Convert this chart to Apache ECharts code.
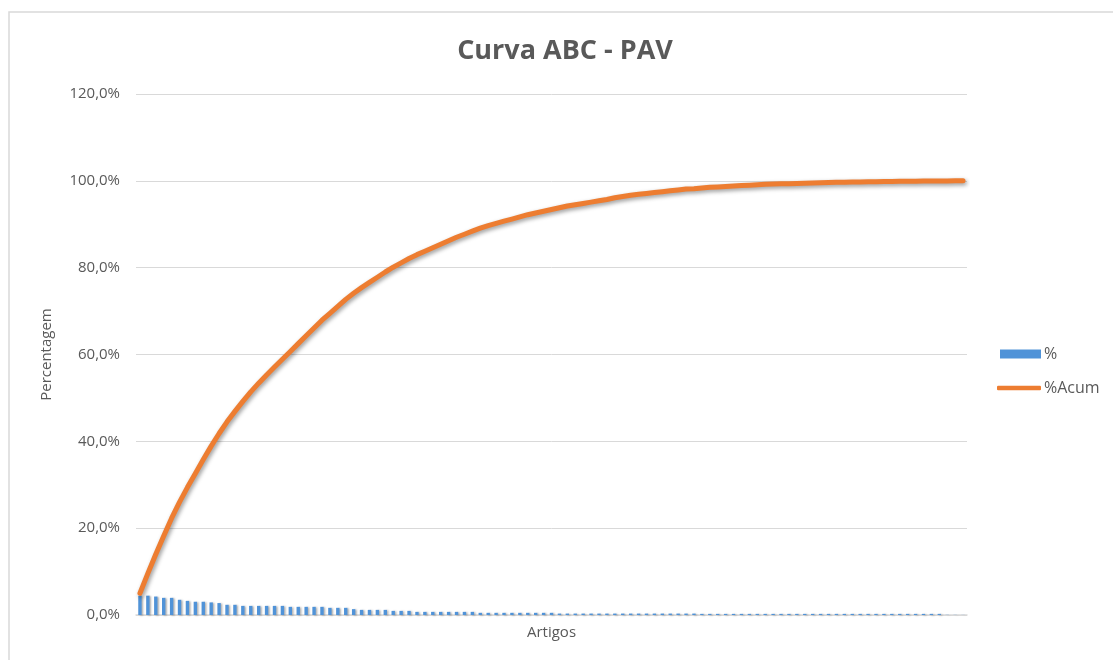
<!DOCTYPE html>
<html>
<head>
<meta charset="utf-8">
<title>Curva ABC - PAV</title>
<script src="https://cdn.jsdelivr.net/npm/echarts@6/dist/echarts.min.js"></script>
<style>
  html, body { margin: 0; padding: 0; background: #ffffff; }
  #chart { width: 1113px; height: 660px; }
</style>
</head>
<body>
<div id="chart"></div>
<script>
// Articles ranked by share (1 = largest share)
const articleCount = 105;
const categories = Array.from({ length: articleCount }, (_, i) => String(i + 1));

// Share of each article, in %
const pct = [
  4.45, 4.45, 4.25, 3.95, 3.95, 3.5, 3.25, 3.05, 3.05, 2.9,
  2.75, 2.35, 2.35, 2.1, 2.1, 2.1, 2.1, 2.1, 2.1, 1.88,
  1.88, 1.88, 1.88, 1.88, 1.65, 1.65, 1.65, 1.35, 1.18, 1.18,
  1.18, 1.18, 0.95, 0.95, 0.95, 0.72, 0.72, 0.72, 0.72, 0.72,
  0.72, 0.72, 0.72, 0.5, 0.5, 0.5, 0.5, 0.5, 0.5, 0.5,
  0.5, 0.5, 0.5, 0.33, 0.33, 0.33, 0.33, 0.33, 0.33, 0.33,
  0.33, 0.33, 0.33, 0.33, 0.33, 0.33, 0.33, 0.33, 0.33, 0.33,
  0.33, 0.26, 0.26, 0.26, 0.26, 0.26, 0.26, 0.26, 0.26, 0.26,
  0.26, 0.26, 0.26, 0.26, 0.26, 0.26, 0.26, 0.26, 0.26, 0.26,
  0.26, 0.26, 0.26, 0.26, 0.26, 0.26, 0.26, 0.26, 0.26, 0.26,
  0.26, 0.26, 0.04, 0.03, 0.02
];

// Accumulated share, in %
const pctAcum = [
  5.0, 9.6, 14.0, 18.2, 22.3, 26.0, 29.4, 32.6, 35.8, 38.9,
  41.8, 44.5, 46.9, 49.2, 51.4, 53.4, 55.3, 57.1, 58.9, 60.7,
  62.5, 64.3, 66.1, 67.9, 69.5, 71.1, 72.7, 74.1, 75.4, 76.6,
  77.8, 79.0, 80.1, 81.1, 82.1, 83.0, 83.8, 84.6, 85.4, 86.2,
  87.0, 87.7, 88.4, 89.1, 89.7, 90.2, 90.7, 91.2, 91.7, 92.2,
  92.6, 93.0, 93.4, 93.8, 94.2, 94.5, 94.8, 95.1, 95.4, 95.7,
  96.1, 96.4, 96.7, 96.9, 97.1, 97.3, 97.5, 97.7, 97.9, 98.1,
  98.2, 98.35, 98.5, 98.6, 98.7, 98.8, 98.9, 99.0, 99.1, 99.2,
  99.25, 99.3, 99.35, 99.4, 99.45, 99.5, 99.55, 99.6, 99.65, 99.7,
  99.72, 99.75, 99.78, 99.8, 99.83, 99.86, 99.88, 99.9, 99.92, 99.94,
  99.96, 99.98, 99.99, 100.0, 100.0
];

// Value axis ticks (%)
const yTicks = [0, 20, 40, 60, 80, 100, 120];

const textColor = '#595959';
const font = '"Open Sans", "Liberation Sans", sans-serif';
const barColor = '#5093d8';
const lineColor = '#ed7d31';

const legendText = { fontFamily: font, fontSize: 16, color: textColor, padding: [0, 0, 0, -2] };

const chart = echarts.init(document.getElementById('chart'), null, { renderer: 'canvas' });

chart.setOption({
  animation: false,
  backgroundColor: '#ffffff',
  textStyle: { fontFamily: font, color: textColor },
  title: {
    text: 'Curva ABC - PAV',
    left: 560,
    textAlign: 'center',
    top: 33,
    textStyle: { fontFamily: font, fontSize: 27, fontWeight: 700, color: textColor }
  },
  graphic: [{
    type: 'rect',
    silent: true,
    shape: { x: 9, y: 12, width: 1120, height: 680 },
    style: { fill: 'none', stroke: '#d9d9d9', lineWidth: 1.5 }
  }],
  legend: [
    {
      orient: 'vertical',
      left: 995,
      top: 341,
      itemWidth: 41,
      itemHeight: 9,
      textStyle: legendText,
      data: [{ name: '%', icon: 'rect' }]
    },
    {
      orient: 'vertical',
      left: 992,
      top: 375,
      itemWidth: 44,
      itemHeight: 4.5,
      textStyle: legendText,
      data: [{ name: '%Acum', icon: 'roundRect', itemStyle: { color: lineColor } }]
    }
  ],
  grid: { left: 136, right: 146, top: 94, bottom: 45, containLabel: false },
  xAxis: {
    type: 'category',
    data: categories,
    boundaryGap: true,
    name: 'Artigos',
    nameLocation: 'middle',
    nameGap: 10,
    nameTextStyle: { fontFamily: font, fontSize: 15, color: textColor },
    axisLine: { lineStyle: { color: '#d9d9d9', width: 1.5 } },
    axisTick: { show: false },
    axisLabel: { show: false },
    splitLine: { show: false }
  },
  yAxis: {
    type: 'value',
    min: yTicks[0],
    max: yTicks[yTicks.length - 1],
    interval: yTicks[1] - yTicks[0],
    name: 'Percentagem',
    nameLocation: 'middle',
    nameGap: 82,
    nameRotate: 90,
    nameTextStyle: { fontFamily: font, fontSize: 15, color: textColor },
    axisLine: { show: false },
    axisTick: { show: false },
    axisLabel: {
      fontFamily: font,
      fontSize: 15,
      color: textColor,
      margin: 16,
      formatter: v => v.toFixed(1).replace('.', ',') + '%'
    },
    splitLine: { lineStyle: { color: '#d9d9d9', width: 1 } }
  },
  series: [
    {
      name: '%',
      type: 'bar',
      data: pct,
      barWidth: 3.4,
      itemStyle: {
        color: barColor,
        shadowColor: 'rgba(0,0,0,0.30)',
        shadowBlur: 2,
        shadowOffsetX: 1.5,
        shadowOffsetY: 0.5
      }
    },
    {
      name: '%Acum',
      type: 'line',
      data: pctAcum,
      symbol: 'none',
      smooth: false,
      lineStyle: {
        color: lineColor,
        width: 5,
        cap: 'round',
        join: 'round',
        shadowColor: 'rgba(0,0,0,0.40)',
        shadowBlur: 4,
        shadowOffsetX: 1.5,
        shadowOffsetY: 2
      },
      itemStyle: { color: lineColor }
    }
  ]
});
</script>
</body>
</html>
